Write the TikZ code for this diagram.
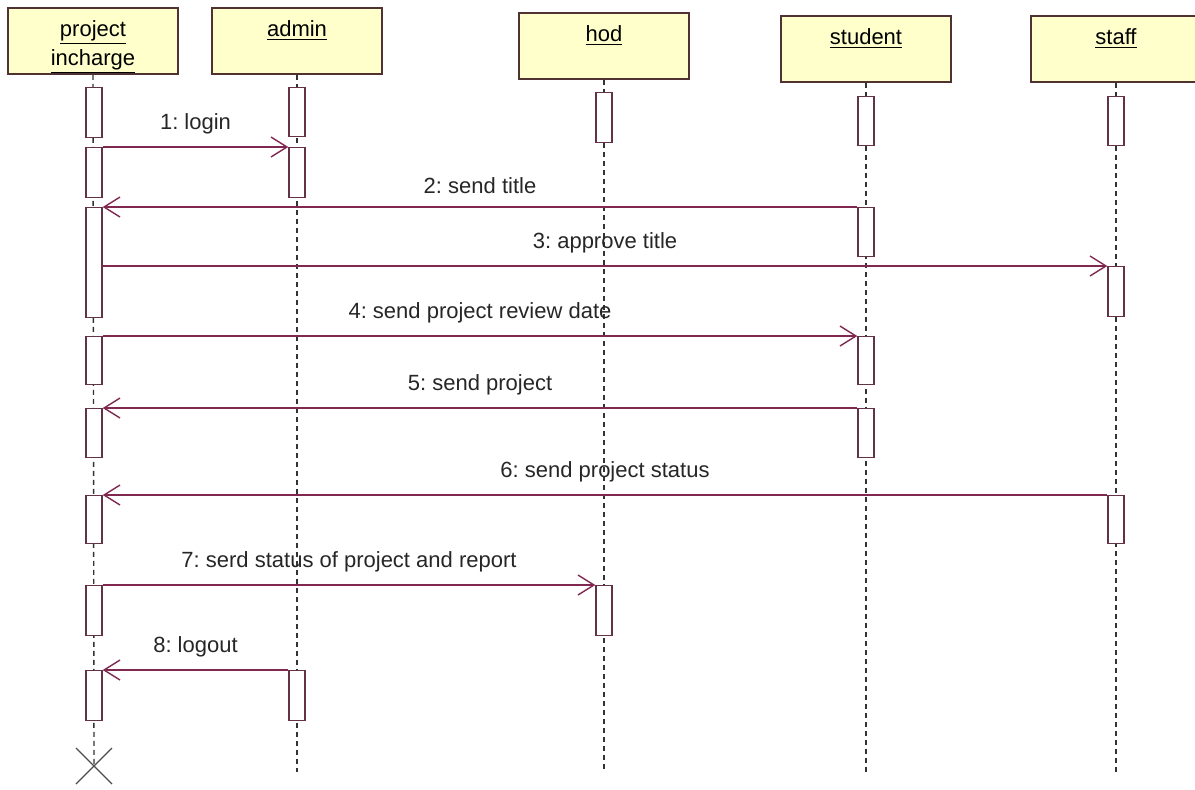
\documentclass[tikz,border=0pt]{standalone}
\usepackage{fontspec}
\setmainfont{Liberation Sans}
\frenchspacing
\usetikzlibrary{arrows.meta}
\definecolor{headfill}{RGB}{255,255,204}
\definecolor{headline}{RGB}{80,50,50}
\definecolor{msgline}{RGB}{128,40,80}
\definecolor{actline}{RGB}{100,50,70}
\tikzset{>={Straight Barb[length=8pt,width=10pt]}}

\begin{document}
\begin{tikzpicture}[x=0.5pt, y=-0.5pt, font=\fontsize{11}{14.5}\selectfont,
head/.style={rectangle, draw=headline, fill=headfill, line width=0.8pt, minimum width=85pt, minimum height=33pt, inner sep=0pt},
htext/.style={anchor=north, yshift=-3pt, align=center},
act/.style={rectangle, draw=actline, fill=white, line width=0.7pt, minimum width=8pt, anchor=north, inner sep=0pt},
life/.style={draw=black!80, line width=0.7pt, dash pattern=on 2.5pt off 2pt},
msg/.style={->, draw=msgline, line width=0.7pt},
lbl/.style={above=3pt, midway, text=black!85}]
    \useasboundingbox (0,0) rectangle (1195,789);

    % objects
    \node[head] (pi) at (93,41) {};
    \node[head] (ad) at (297,41) {};
    \node[head] (hd) at (604,46) {};
    \node[head] (st) at (866,49) {};
    \node[head] (sf) at (1116,49) {};
    \node[htext] (pi-t) at (pi.north) {\underline{project}\\\underline{incharge}};
    \node[htext] (ad-t) at (ad.north) {\underline{admin}};
    \node[htext] (hd-t) at (hd.north) {\underline{hod}};
    \node[htext] (st-t) at (st.north) {\underline{student}};
    \node[htext] (sf-t) at (sf.north) {\underline{staff}};

    % lifelines
    \coordinate (pix) at (94,766);
    \coordinate (ad-end) at (297,772);
    \coordinate (hd-end) at (604,772);
    \coordinate (st-end) at (866,772);
    \coordinate (sf-end) at (1116,772);
    \draw[life] (pi.south) -- (pix);
    \foreach \n in {ad, hd, st, sf}
        \draw[life] (\n.south) -- (\n-end);

    % activations
    \node[act, minimum height=25pt] (pi1) at (94,87) {};
    \node[act, minimum height=25pt] (pi2) at (94,147) {};
    \node[act, minimum height=55pt] (pi3) at (94,207) {};
    \node[act, minimum height=24pt] (pi4) at (94,336) {};
    \node[act, minimum height=24.5pt] (pi5) at (94,408) {};
    \node[act, minimum height=24pt] (pi6) at (94,495) {};
    \node[act, minimum height=25pt] (pi7) at (94,585) {};
    \node[act, minimum height=25pt] (pi8) at (94,670) {};

    \node[act, minimum height=24.5pt] (ad1) at (297,87) {};
    \node[act, minimum height=25pt] (ad2) at (297,147) {};
    \node[act, minimum height=25pt] (ad3) at (297,670) {};

    \node[act, minimum height=25pt] (hd1) at (604,92) {};
    \node[act, minimum height=25pt] (hd2) at (604,585) {};

    \node[act, minimum height=24.5pt] (st1) at (866,96) {};
    \node[act, minimum height=24.5pt] (st2) at (866,207) {};
    \node[act, minimum height=24pt] (st3) at (866,336) {};
    \node[act, minimum height=24.5pt] (st4) at (866,408) {};

    \node[act, minimum height=24.5pt] (sf1) at (1116,96) {};
    \node[act, minimum height=25pt] (sf2) at (1116,266) {};
    \node[act, minimum height=24pt] (sf3) at (1116,495) {};

    % messages
    \draw[msg] (pi2.north east) -- node[lbl] {1: login} (ad2.north west);
    \draw[msg] (st2.north west) -- node[lbl] {2: send title} (pi3.north east);
    \draw[msg] (pi3.east |- sf2.north) -- node[lbl] {3: approve title} (sf2.north west);
    \draw[msg] (pi4.north east) -- node[lbl] {4: send project review date} (st3.north west);
    \draw[msg] (st4.north west) -- node[lbl] {5: send project} (pi5.north east);
    \draw[msg] (sf3.north west) -- node[lbl] {6: send project status} (pi6.north east);
    \draw[msg] (pi7.north east) -- node[lbl] {7: serd status of project and report} (hd2.north west);
    \draw[msg] (ad3.north west) -- node[lbl] {8: logout} (pi8.north east);

    % destroy
    \draw[black!70, line width=0.6pt] (pix) +(-18,-18) -- +(18,18) (pix) +(-18,18) -- +(18,-18);
\end{tikzpicture}
\end{document}
